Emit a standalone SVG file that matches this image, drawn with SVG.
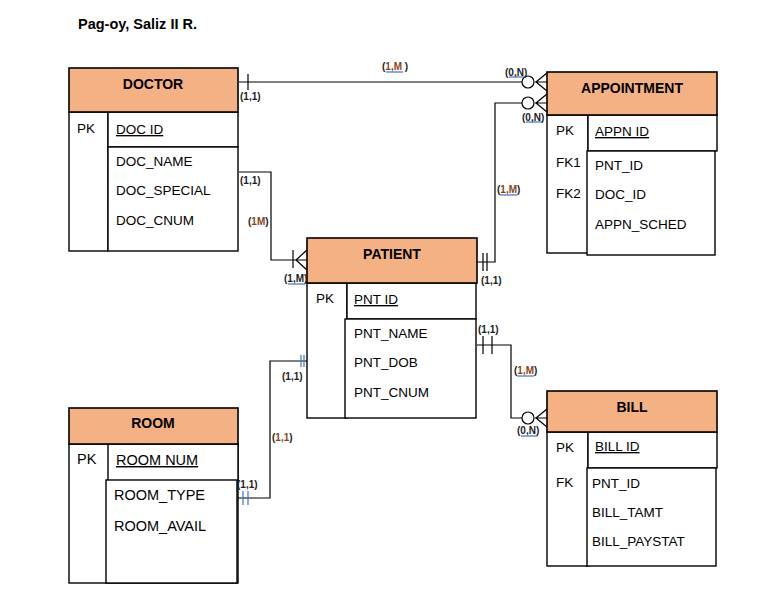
<svg xmlns="http://www.w3.org/2000/svg" width="765" height="598" viewBox="0 0 765 598">
<style>
.hdr{fill:#f4b183;stroke:#000;stroke-width:1.6}
.box{fill:#fff;stroke:#000;stroke-width:1.4}
.ttl{font-family:"Liberation Sans",Arial,sans-serif;font-weight:bold;font-size:14px;fill:#000;text-anchor:middle}
.at{font-family:"Liberation Sans",Arial,sans-serif;font-size:13.5px;fill:#000}
.big{font-size:14.5px}
.u{text-decoration:underline}
.lb{font-family:"Liberation Sans",Arial,sans-serif;font-weight:bold;font-size:10px;fill:#222}
.br{fill:#8b4513}
.ln{fill:none;stroke:#000;stroke-width:1.2}
.bl{fill:none;stroke:#4472c4;stroke-width:1.2}
.ul{stroke:#4472c4;stroke-width:1.2}
</style>
<rect width="765" height="598" fill="#fff"/>
<text x="78" y="29" font-family="Liberation Sans,Arial,sans-serif" font-weight="bold" font-size="14.5">Pag-oy, Saliz II R.</text>

<g id="doctor">
<rect class="box" x="69" y="112" width="39" height="139"/>
<rect class="box" x="108" y="112" width="130" height="35"/>
<rect class="box" x="108" y="147" width="130" height="104"/>
<rect class="hdr" x="69" y="68" width="169" height="44"/>
<text class="ttl" x="153" y="89">DOCTOR</text>
<text class="at" x="77" y="133">PK</text>
<text class="at u" x="116" y="134">DOC ID</text>
<text class="at" x="116" y="166">DOC_NAME</text>
<text class="at" x="116" y="195">DOC_SPECIAL</text>
<text class="at" x="116" y="225">DOC_CNUM</text>
</g>

<g id="appointment">
<rect class="box" x="547" y="115" width="41" height="138"/>
<rect class="box" x="588" y="115" width="129" height="36"/>
<rect class="box" x="587" y="151" width="128" height="104"/>
<rect class="hdr" x="547" y="72" width="170" height="43"/>
<text class="ttl" x="632" y="93">APPOINTMENT</text>
<text class="at" x="556" y="135">PK</text>
<text class="at u" x="595" y="136">APPN ID</text>
<text class="at" x="556" y="167">FK1</text>
<text class="at" x="556" y="198">FK2</text>
<text class="at" x="595" y="170">PNT_ID</text>
<text class="at" x="595" y="199">DOC_ID</text>
<text class="at" x="595" y="229">APPN_SCHED</text>
</g>

<g id="patient">
<rect class="box" x="307" y="283" width="40" height="135"/>
<rect class="box" x="347" y="283" width="129" height="36"/>
<rect class="box" x="345" y="319" width="131" height="99"/>
<rect class="hdr" x="307" y="238" width="170" height="45" stroke-width="2"/>
<text class="ttl" x="392" y="259">PATIENT</text>
<text class="at" x="316" y="303">PK</text>
<text class="at u" x="354" y="304">PNT ID</text>
<text class="at" x="354" y="338">PNT_NAME</text>
<text class="at" x="354" y="367">PNT_DOB</text>
<text class="at" x="354" y="397">PNT_CNUM</text>
</g>

<g id="bill">
<rect class="box" x="547" y="432" width="41" height="134"/>
<rect class="box" x="588" y="432" width="129" height="36"/>
<rect class="box" x="587" y="468" width="129" height="98"/>
<rect class="hdr" x="547" y="391" width="170" height="41"/>
<text class="ttl" x="632" y="412">BILL</text>
<text class="at" x="556" y="452">PK</text>
<text class="at u" x="595" y="451">BILL ID</text>
<text class="at" x="556" y="487">FK</text>
<text class="at" x="592" y="488">PNT_ID</text>
<text class="at" x="592" y="517">BILL_TAMT</text>
<text class="at" x="592" y="546">BILL_PAYSTAT</text>
</g>

<g id="room">
<rect class="box" x="69" y="444" width="169" height="139"/>
<rect class="box" x="108" y="444" width="130" height="37"/>
<rect class="box" x="106" y="480" width="131" height="103"/>
<rect class="hdr" x="69" y="408" width="169" height="36"/>
<text class="ttl" x="153" y="428">ROOM</text>
<text class="at big" x="77" y="464">PK</text>
<text class="at big u" x="116" y="465">ROOM NUM</text>
<text class="at big" x="114" y="500">ROOM_TYPE</text>
<text class="at big" x="114" y="531">ROOM_AVAIL</text>
</g>

<g id="connectors">
<!-- DOCTOR - APPOINTMENT -->
<path class="ln" d="M239 82 H522"/>
<path class="ln" d="M248 74 V90"/>
<circle class="ln" cx="528" cy="82" r="6" fill="#fff"/>
<path class="ln" d="M535 82 H547 M536 82 L547 73 M536 82 L547 91"/>
<!-- APPOINTMENT - PATIENT -->
<path class="ln" d="M522 103 H495 V262 H477"/>
<circle class="ln" cx="528" cy="103" r="6" fill="#fff"/>
<path class="ln" d="M535 103 H547 M536 103 L547 94 M536 103 L547 112"/>
<path class="ln" d="M483 253 V271 M487 253 V271"/>
<!-- DOCTOR - PATIENT -->
<path class="ln" d="M239 172 H271 V260 H307"/>
<path class="ln" d="M293 250 V268"/>
<path class="ln" d="M296 260 L307 250 M296 260 L307 270"/>
<!-- PATIENT - BILL -->
<path class="ln" d="M477 345 H511 V418 H522"/>
<path class="ln" d="M483 336 V354 M492 336 V354"/>
<circle class="ln" cx="528" cy="418" r="6" fill="#fff"/>
<path class="ln" d="M535 418 H547 M536 418 L547 409 M536 418 L547 427"/>
<!-- ROOM - PATIENT -->
<path class="ln" d="M238 498 H270 V361 H307"/>
<path class="bl" d="M301 355 V367 M304 355 V367"/>
<path class="bl" d="M243 491 V505 M248 491 V505"/>

<!-- labels -->
<text class="lb" x="240" y="100">(1,1)</text>
<text class="lb" x="382" y="70">(<tspan class="br">1,M</tspan> )</text>
<line class="ul" x1="386" y1="72" x2="403" y2="72"/>
<text class="lb" x="505" y="76">(0,N)</text>
<line class="ul" x1="509" y1="77" x2="525" y2="77"/>
<text class="lb" x="522" y="121">(0,N)</text>
<line class="ul" x1="526" y1="122" x2="542" y2="122"/>
<text class="lb" x="497" y="193">(<tspan class="br">1,M</tspan>)</text>
<line class="ul" x1="500" y1="195" x2="517" y2="195"/>
<text class="lb" x="481" y="284">(1,1)</text>
<text class="lb" x="240" y="184">(1,1)</text>
<text class="lb" x="248" y="225">(<tspan class="br">1M</tspan>)</text>
<text class="lb" x="284" y="282">(1,M)</text>
<line class="ul" x1="288" y1="284" x2="305" y2="284"/>
<text class="lb" x="478" y="333">(1,1)</text>
<text class="lb" x="514" y="374">(<tspan class="br">1,M</tspan>)</text>
<line class="ul" x1="517" y1="376" x2="534" y2="376"/>
<text class="lb" x="517" y="434">(0,N)</text>
<line class="ul" x1="521" y1="436" x2="537" y2="436"/>
<text class="lb" x="282" y="380">(1,1)</text>
<text class="lb" x="272" y="441">(<tspan class="br">1,1</tspan>)</text>
<text class="lb" x="237" y="488">(1,1)</text>
</g>
</svg>
